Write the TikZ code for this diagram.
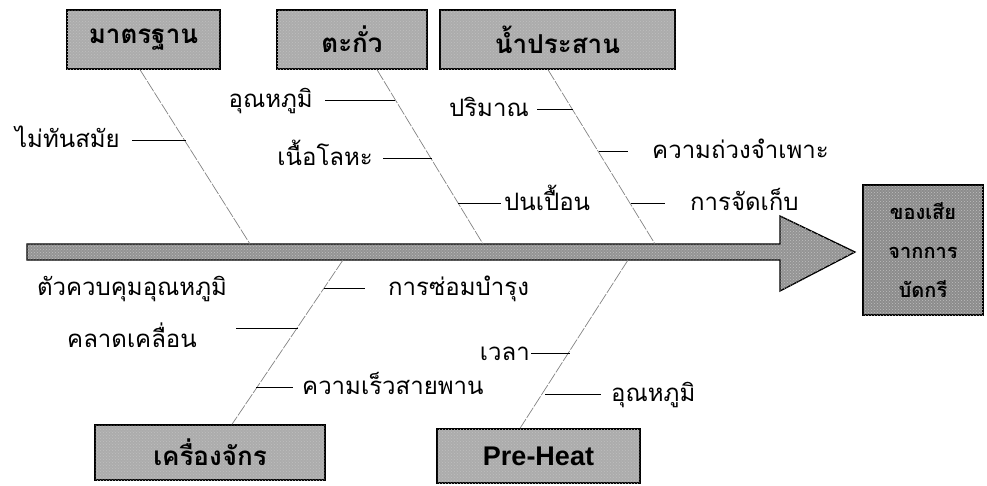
\documentclass[tikz,border=0pt]{standalone}
\usepackage{fontspec}
\setmainfont{Liberation Sans}
\newfontfamily\thai[Script=Thai]{Loma}
\usetikzlibrary{calc,patterns}
\definecolor{boxgray}{RGB}{172,172,172}
\definecolor{resgray}{RGB}{140,140,140}
\definecolor{arrowgray}{RGB}{148,148,148}
\definecolor{bonegray}{RGB}{130,130,130}
\begin{document}
\begin{tikzpicture}[x=1pt,y=-1pt,
  cat/.style={draw=black, line width=1.4pt, fill=boxgray, minimum height=59pt, inner sep=0pt,
    postaction={pattern=crosshatch dots, pattern color=black!25},
    font=\thai\bfseries\fontsize{26}{28}\selectfont},
  lbl/.style={inner ysep=0pt, font=\thai\fontsize{24}{26}\selectfont},
  bone/.style={draw=bonegray, line width=0.7pt, dash pattern=on 12pt off 1.5pt},
  sub/.style={draw=black, line width=0.7pt}]
\useasboundingbox (0,0) rectangle (987,485);

% spine arrow
\filldraw[fill=arrowgray, draw=black, line width=1.3pt, line join=miter,
  postaction={pattern=crosshatch dots, pattern color=black!25}]
  (27,244) -- (780,244) -- (780,216) -- (855,252) -- (780,291) -- (780,260) -- (27,260) -- cycle;
\coordinate (sp1) at (250,244);
\coordinate (sp2) at (483,244);
\coordinate (sp3) at (655,244);
\coordinate (sp4) at (343,260);
\coordinate (sp5) at (628,260);

% category boxes
\node[cat, minimum width=153pt] (std) at (143.5,39.5) {มาตรฐาน};
\node[cat, minimum width=150pt] (lead) at (352,39.5) {ตะกั่ว};
\node[cat, minimum width=235pt] (flux) at (557.5,39.5) {น้ำประสาน};
\node[cat, minimum width=230pt, minimum height=55pt] (mach) at (210,452.5) {เครื่องจักร};
\node[cat, minimum width=203pt, minimum height=54pt, font=\bfseries\fontsize{27}{29}\selectfont] (pre) at (538.5,456) {Pre-Heat};
\node[cat, fill=resgray, minimum width=120pt, minimum height=130pt, align=center,
  font=\thai\bfseries\fontsize{20}{39}\selectfont] (res) at (923,250) {ของเสีย\\จากการ\\บัดกรี};

% bones
\draw[bone] ($(std.south)+(-3.5,0)$) -- (sp1);
\draw[bone] ($(lead.south)+(25,0)$) -- (sp2);
\draw[bone] ($(flux.south)+(-9.5,0)$) -- (sp3);
\draw[bone] (sp4) -- ($(mach.north)+(22,0)$);
\draw[bone] (sp5) -- ($(pre.north)+(-18.5,0)$);

% sub-bone points
\coordinate (k1) at (186,140);
\coordinate (k2) at (395,100);
\coordinate (k3) at (432,158);
\coordinate (k4) at (458,203);
\coordinate (k5) at (573,109);
\coordinate (k6) at (599,151);
\coordinate (k7) at (631,203);
\coordinate (k8) at (324,288);
\coordinate (k9) at (298,328);
\coordinate (k10) at (256,387);
\coordinate (k11) at (570,353);
\coordinate (k12) at (545,394);

% labels (left side)
\node[lbl, anchor=base east, inner xsep=12pt] (t1) at (132,147) {ไม่ทันสมัย};
\node[lbl, anchor=base east, inner xsep=12pt] (t2) at (325,107) {อุณหภูมิ};
\node[lbl, anchor=base east, inner xsep=10pt] (t3) at (383,165) {เนื้อโลหะ};
\node[lbl, anchor=base east, inner xsep=8pt] (t5) at (537,116) {ปริมาณ};
\node[lbl, anchor=base east, inner xsep=1pt] (t11) at (531,360) {เวลา};
\node[lbl, align=center, inner xsep=9pt, font=\thai\fontsize{24}{52}\selectfont] (t9) at (132,312) {ตัวควบคุมอุณหภูมิ\\คลาดเคลื่อน};
% labels (right side)
\node[lbl, anchor=base west, inner xsep=3pt] (t4) at (501,210) {ปนเปื้อน};
\node[lbl, anchor=base west, inner xsep=24pt] (t6) at (628,158) {ความถ่วงจำเพาะ};
\node[lbl, anchor=base west, inner xsep=25pt] (t7) at (665,210) {การจัดเก็บ};
\node[lbl, anchor=base west, inner xsep=23pt] (t8) at (365,295) {การซ่อมบำรุง};
\node[lbl, anchor=base west, inner xsep=9pt] (t10) at (293,394) {ความเร็วสายพาน};
\node[lbl, anchor=base west, inner xsep=10pt] (t12) at (601,401) {อุณหภูมิ};

% sub-bones
\draw[sub] (t1.east |- k1) -- (k1);
\draw[sub] (t2.east |- k2) -- (k2);
\draw[sub] (t3.east |- k3) -- (k3);
\draw[sub] (t5.east |- k5) -- (k5);
\draw[sub] (t11.east |- k11) -- (k11);
\draw[sub] (t9.east |- k9) -- (k9);
\draw[sub] (k4) -- (t4.west |- k4);
\draw[sub] (k6) -- (t6.west |- k6);
\draw[sub] (k7) -- (t7.west |- k7);
\draw[sub] (k8) -- (t8.west |- k8);
\draw[sub] (k10) -- (t10.west |- k10);
\draw[sub] (k12) -- (t12.west |- k12);
\end{tikzpicture}
\end{document}
